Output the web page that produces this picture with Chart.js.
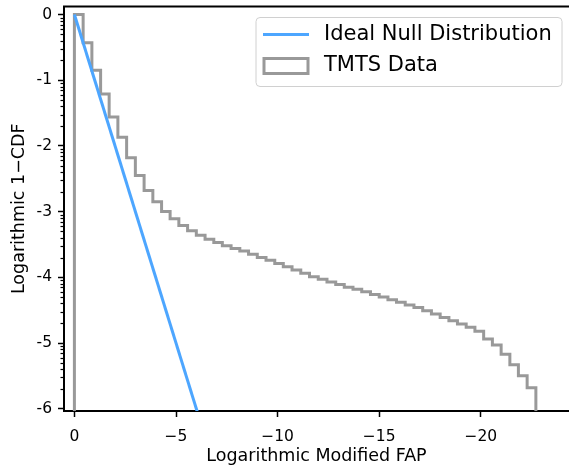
<!DOCTYPE html>
<html lang="en">
<head>
    <meta charset="UTF-8">
    <title>Logarithmic 1-CDF vs Modified FAP</title>
    <script src="https://cdn.jsdelivr.net/npm/chart.js"></script>
    <style>
        html, body { margin: 0; padding: 0; background: #fff; }
        .chart-container { position: relative; width: 569px; height: 470px; }
    </style>
</head>
<body>
    <div class="chart-container">
        <canvas id="fapChart"></canvas>
    </div>

    <script>
        // --- data ---
        const idealLabel = 'Ideal Null Distribution';
        const tmtsLabel = 'TMTS Data';

        // ideal null: log(1-CDF) = log(FAP), a straight line
        const idealX = [0, 7];
        const idealY = [0, -7];

        // histogram bin edges (x, shown as negative on the axis)
        const binEdges = [
            0, 0.43, 0.86, 1.29, 1.71, 2.14, 2.57, 3.00, 3.43, 3.86,
            4.29, 4.71, 5.14, 5.57, 6.00, 6.43, 6.86, 7.28, 7.71, 8.14,
            8.57, 9.00, 9.43, 9.86, 10.28, 10.71, 11.14, 11.57, 12.00, 12.43,
            12.86, 13.28, 13.71, 14.14, 14.57, 15.00, 15.43, 15.85, 16.28, 16.71,
            17.14, 17.57, 18.00, 18.43, 18.85, 19.28, 19.71, 20.14, 20.57, 21.00,
            21.43, 21.85, 22.28, 22.71
        ];
        // log10(1-CDF) per bin
        const tmtsLogCdf = [
            0, -0.43, -0.85, -1.21, -1.56, -1.87, -2.18, -2.45, -2.68, -2.85,
            -3.00, -3.11, -3.21, -3.29, -3.36, -3.42, -3.47, -3.52, -3.56, -3.60,
            -3.65, -3.70, -3.74, -3.79, -3.84, -3.89, -3.94, -3.99, -4.03, -4.07,
            -4.11, -4.15, -4.18, -4.22, -4.26, -4.30, -4.34, -4.38, -4.42, -4.46,
            -4.51, -4.56, -4.61, -4.66, -4.71, -4.76, -4.82, -4.94, -5.03, -5.17,
            -5.33, -5.50, -5.68
        ];
        const histFloor = -8; // outline drops below the axis

        const xTickValues = [0, 5, 10, 15, 20];
        const yTickValues = [0, -1, -2, -3, -4, -5, -6];

        // --- build point lists ---
        const idealPoints = idealX.map((x, i) => ({ x: x, y: idealY[i] }));

        const tmtsPoints = [{ x: binEdges[0], y: histFloor }];
        tmtsLogCdf.forEach((v, i) => {
            tmtsPoints.push({ x: binEdges[i], y: v });
            tmtsPoints.push({ x: binEdges[i + 1], y: v });
        });
        tmtsPoints.push({ x: binEdges[binEdges.length - 1], y: histFloor });

        const FONT = 'DejaVu Sans';
        Chart.defaults.font.family = FONT;
        Chart.defaults.color = '#000';

        // top spine, minor log ticks on y, and an in-plot legend like matplotlib
        const extrasPlugin = {
            id: 'extras',
            afterDraw(chart) {
                const ctx = chart.ctx;
                const area = chart.chartArea;
                const y = chart.scales.y;
                ctx.save();

                // top spine
                ctx.strokeStyle = '#000';
                ctx.lineWidth = 2;
                ctx.beginPath();
                ctx.moveTo(area.left - 1, area.top);
                ctx.lineTo(area.right, area.top);
                ctx.stroke();

                // minor ticks (log spacing inside each decade)
                ctx.lineWidth = 1.2;
                for (let d = 0; d > -7; d--) {
                    for (let k = 2; k <= 9; k++) {
                        const v = d - 1 + Math.log10(k);
                        if (v < y.min || v > y.max) continue;
                        const py = Math.round(y.getPixelForValue(v)) + 0.5;
                        ctx.beginPath();
                        ctx.moveTo(area.left - 3.5, py);
                        ctx.lineTo(area.left, py);
                        ctx.stroke();
                    }
                }

                // legend box
                const bx = 256, by = 17.5, bw = 306, bh = 69, r = 4;
                ctx.beginPath();
                ctx.moveTo(bx + r, by);
                ctx.arcTo(bx + bw, by, bx + bw, by + bh, r);
                ctx.arcTo(bx + bw, by + bh, bx, by + bh, r);
                ctx.arcTo(bx, by + bh, bx, by, r);
                ctx.arcTo(bx, by, bx + bw, by, r);
                ctx.closePath();
                ctx.fillStyle = 'rgba(255,255,255,0.8)';
                ctx.fill();
                ctx.strokeStyle = '#d0d0d0';
                ctx.lineWidth = 1;
                ctx.stroke();

                const ds = chart.data.datasets;
                // line handle
                ctx.strokeStyle = ds[0].borderColor;
                ctx.lineWidth = ds[0].borderWidth;
                ctx.beginPath();
                ctx.moveTo(263, 34.5);
                ctx.lineTo(309, 34.5);
                ctx.stroke();
                // patch handle
                ctx.strokeStyle = ds[1].borderColor;
                ctx.lineWidth = ds[1].borderWidth;
                ctx.strokeRect(264, 58.5, 44, 15);

                ctx.fillStyle = '#000';
                ctx.font = '21px "' + FONT + '"';
                ctx.textBaseline = 'middle';
                ctx.textAlign = 'left';
                ctx.fillText(ds[0].label, 324, 35);
                ctx.fillText(ds[1].label, 324, 66);
                ctx.restore();
            }
        };

        const ctx = document.getElementById('fapChart').getContext('2d');
        const fapChart = new Chart(ctx, {
            type: 'line',
            data: {
                datasets: [
                    {
                        label: idealLabel,
                        data: idealPoints,
                        borderColor: '#4da6ff',
                        borderWidth: 3,
                        pointRadius: 0,
                        tension: 0
                    },
                    {
                        label: tmtsLabel,
                        data: tmtsPoints,
                        borderColor: '#999999',
                        borderWidth: 3,
                        pointRadius: 0,
                        tension: 0
                    }
                ]
            },
            options: {
                responsive: true,
                maintainAspectRatio: false,
                animation: false,
                layout: { autoPadding: false, padding: { top: 6.5, right: 0, bottom: 0, left: 0 } },
                plugins: {
                    legend: { display: false },
                    tooltip: { enabled: false }
                },
                scales: {
                    x: {
                        type: 'linear',
                        min: -0.512,
                        max: 24.34,
                        afterBuildTicks: s => { s.ticks = xTickValues.map(v => ({ value: v })); },
                        afterFit: s => { s.height = 59; s.paddingLeft = 0; s.paddingRight = 0; },
                        ticks: {
                            callback: v => (v === 0 ? '0' : '\u2212' + v),
                            font: { size: 15.5 },
                            color: '#000',
                            padding: 11,
                            maxRotation: 0,
                            autoSkip: false
                        },
                        grid: { drawOnChartArea: false, tickLength: 6, tickWidth: 1.5, tickColor: '#000' },
                        border: { color: '#000', width: 2 },
                        title: {
                            display: true,
                            text: 'Logarithmic Modified FAP',
                            font: { size: 17.5 },
                            color: '#000',
                            padding: { top: 0, bottom: 3 }
                        }
                    },
                    y: {
                        type: 'linear',
                        min: -6.035,
                        max: 0.122,
                        afterBuildTicks: s => { s.ticks = yTickValues.map(v => ({ value: v })); },
                        afterFit: s => { s.width = 64; s.paddingTop = 0; s.paddingBottom = 0; },
                        ticks: {
                            callback: v => String(v),
                            font: { size: 15.5 },
                            color: '#000',
                            padding: 6,
                            autoSkip: false
                        },
                        grid: { drawOnChartArea: false, tickLength: 6, tickWidth: 1.5, tickColor: '#000' },
                        border: { color: '#000', width: 2 },
                        title: {
                            display: true,
                            text: 'Logarithmic 1\u2212CDF',
                            font: { size: 17.5 },
                            color: '#000',
                            padding: { top: 9, bottom: 0 }
                        }
                    }
                }
            },
            plugins: [extrasPlugin]
        });
    </script>
</body>
</html>
